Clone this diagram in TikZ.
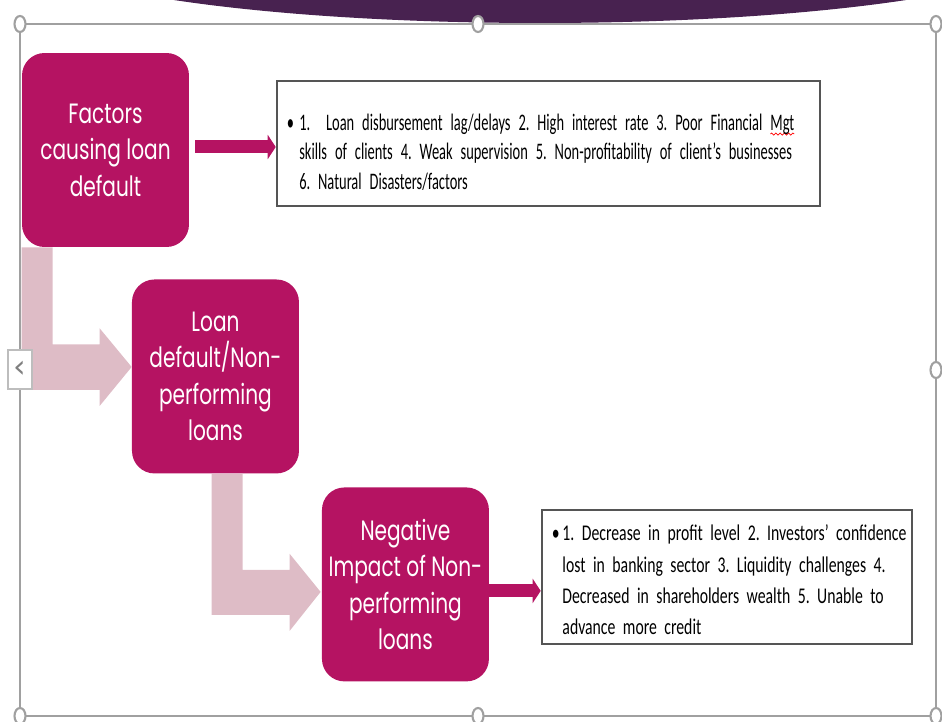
\documentclass[tikz,border=0pt]{standalone}
\usepackage{fontspec}
\newfontfamily\stagefont[FakeStretch=0.72]{Poppins}
\newfontfamily\listfont[FakeStretch=0.61,WordSpace=0.6]{Carlito}
\newfontfamily\effectfont[FakeStretch=0.7,WordSpace=0.6]{Carlito}
\newfontfamily\tabfont{DejaVu Sans}
\usetikzlibrary{arrows.meta,positioning,calc,decorations.pathmorphing}
\definecolor{plum}{RGB}{181,19,98}
\definecolor{blush}{RGB}{222,188,198}
\definecolor{dusk}{RGB}{72,34,80}
\definecolor{dusklight}{RGB}{108,45,99}
\definecolor{framegray}{RGB}{160,160,160}
\definecolor{boxgray}{RGB}{85,85,85}
\newlength\spellwd
\newcommand{\spellmark}[1]{\settowidth{\spellwd}{#1}\tikz[overlay,baseline=0pt]
  \draw[red,line width=0.4pt,decorate,decoration={snake,amplitude=0.6pt,segment length=2.4pt}]
  (0pt,-2.2pt) -- (\spellwd,-2.2pt);#1}
\tikzset{
  stage/.style={rectangle,rounded corners=0.45cm,fill=plum,text=white,align=center,
    minimum width=3.34cm,minimum height=3.88cm,font=\stagefont\fontsize{15.9}{20.8}\selectfont},
  listbox/.style={rectangle,draw=boxgray,line width=1.4pt,fill=white,align=left,inner xsep=0.2cm},
  push/.style={plum,line width=0.26cm,-{Triangle[length=0.16cm,width=0.48cm]}},
  bentshaft/.style={fill=blush},
  handle/.style={draw=framegray,fill=white,line width=1.2pt}
}
\begin{document}
\begin{tikzpicture}[x=0.02cm,y=-0.02cm,on grid]
  \useasboundingbox (0,0) rectangle (942,722);
  % title band at the top
  \shade[left color=dusk,middle color=dusklight,right color=dusk] (540,-57) ellipse [x radius=522,y radius=80];
  \draw[framegray,line width=0.85pt] (20,24) rectangle (936,716);

  \node[stage] (cause) at (105.5,150) {Factors\\causing loan\\default};
  \node[stage] (npl) [below right=4.53cm and 2.2cm of cause] {Loan\\default/Non-\\performing\\loans};
  \node[stage] (impact) [below right=4.16cm and 3.8cm of npl] {Negative\\Impact of Non-\\performing\\loans};

  \node[listbox,minimum width=10.86cm,minimum height=2.5cm,text width=10.46cm,
    font=\listfont\frenchspacing\fontsize{13.5}{16.8}\selectfont] (causes) [above right=0.13cm and 8.86cm of cause]
    {\rule{0pt}{19pt}\mbox{\makebox[7pt][l]{\textbullet}1.\ \ Loan disbursement lag/delays 2. High interest rate 3. Poor Financial \spellmark{Mgt}}\\
     \mbox{\hspace*{7pt}skills of clients 4. Weak supervision 5. Non-profitability of client’s businesses}\\
     \mbox{\hspace*{7pt}6. Natural Disasters/factors}};
  \node[listbox,minimum width=7.4cm,minimum height=2.68cm,text width=7cm,
    font=\effectfont\frenchspacing\fontsize{12.8}{17.9}\selectfont] (effects) [above right=0.15cm and 6.43cm of impact]
    {\rule{0pt}{12.5pt}\mbox{\makebox[6pt][l]{\textbullet}1. Decrease in profit level 2. Investors’ confidence}\\
     \mbox{\hspace*{6pt}lost in banking sector 3. Liquidity challenges 4.}\\
     \mbox{\hspace*{6pt}Decreased in shareholders wealth 5. Unable to}\\
     \mbox{\hspace*{6pt}advance more credit}};

  % bent arrows between the stages
  \fill[bentshaft] (cause.south west) -- ++(31,0) -- ++(0,97) -- ++(47,0) -- ++(0,-16)
    -- ($(npl.west)+(0,-9.5)$) -- ++(-32,39) -- ++(0,-16) -- ++(-78,0) -- cycle;
  \fill[bentshaft] ($(npl.south west)+(80,0)$) -- ++(31,0) -- ++(0,96) -- ++(47,0) -- ++(0,-16)
    -- ($(impact.west)+(-1,7.5)$) -- ++(-31,39) -- ++(0,-16) -- ++(-78,0) -- cycle;

  \draw[push] ([xshift=0.12cm,yshift=0.06cm]cause.east) coordinate (c1) -- (c1 -| causes.west);
  \draw[push] ([yshift=-0.13cm]impact.east) coordinate (c2) -- (c2 -| effects.west);

  % selection handles
  \foreach \hx/\hy in {20/24,478/24,936/24,936/370,20/716,478/716,936/716}
    \draw[handle] (\hx,\hy) ellipse [x radius=5.5,y radius=8];
  \draw[draw=framegray!70,fill=white,line width=0.8pt] (8,350) rectangle (32,389);
  \node[text=gray,font=\tabfont\fontsize{18}{18}\selectfont] (tab) at (20,369) {‹};
\end{tikzpicture}
\end{document}
